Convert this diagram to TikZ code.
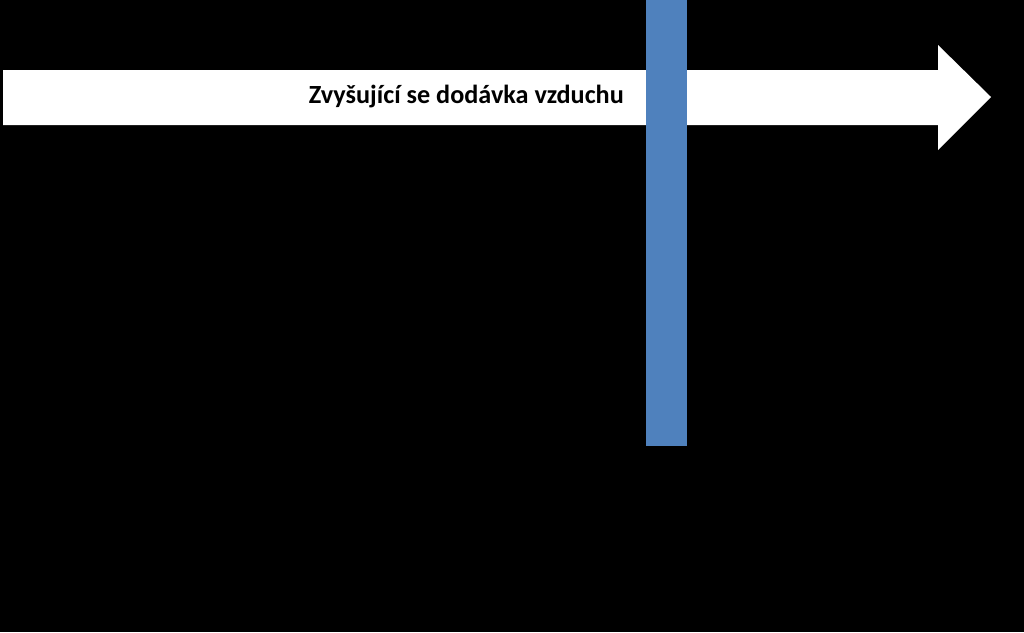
\documentclass[tikz,border=0pt]{standalone}
\usepackage{fontspec}
\setmainfont{Carlito}
\definecolor{barblue}{RGB}{79,129,189}
\begin{document}
\begin{tikzpicture}[x=1pt,y=-1pt]
\fill[black] (0,0) rectangle (1024,632);
\useasboundingbox (0,0) rectangle (1024,632);

\path[fill=white] (3,70) -- (938,70) -- (938,45) -- (991,97) -- (938,150) -- (938,125) -- (3,125) -- cycle;
\node[anchor=east, font=\fontsize{26.2}{30}\selectfont\bfseries, inner sep=0pt] (label) at (624,97) {Zvyšující se dodávka vzduchu};

\path[fill=barblue] (646,0) rectangle (687,446);
\end{tikzpicture}
\end{document}
